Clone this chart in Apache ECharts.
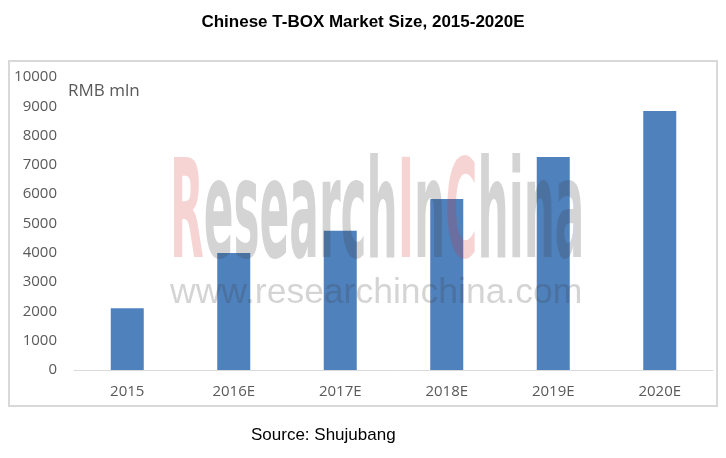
<!DOCTYPE html>
<html>
<head>
<meta charset="utf-8">
<script src="https://cdn.jsdelivr.net/npm/echarts@6/dist/echarts.min.js"></script>
<style>html,body{margin:0;padding:0;background:#fff;}#c{width:726px;height:458px;}</style>
</head>
<body>
<div id="c"></div>
<script>
var categories = ['2015', '2016E', '2017E', '2018E', '2019E', '2020E'];
var marketSize = [2110, 3990, 4750, 5840, 7270, 8840];
var yTicks = { min: 0, max: 10000, interval: 1000 };
var titleText = 'Chinese T-BOX Market Size, 2015-2020E';
var unitText = 'RMB mln';
var sourceText = 'Source: Shujubang';

var chart = echarts.init(document.getElementById('c'), null, { renderer: 'canvas' });
var axisFont = '"Open Sans", "Liberation Sans", sans-serif';
var wmFont = '"DejaVu Sans", "Liberation Sans", sans-serif';
chart.setOption({
  animation: false,
  backgroundColor: '#ffffff',
  title: {
    text: titleText,
    left: 'center',
    top: 9,
    textStyle: { fontFamily: '"Liberation Sans", Arial, sans-serif', fontWeight: 'bold', fontSize: 17, color: '#000' }
  },
  grid: { left: 74, right: 13, top: 77, bottom: 88 },
  xAxis: {
    type: 'category',
    data: categories,
    axisLine: { lineStyle: { color: '#d9d9d9', width: 1 } },
    axisTick: { show: false },
    axisLabel: { color: '#595959', fontSize: 15, fontFamily: axisFont, margin: 14 }
  },
  yAxis: {
    type: 'value',
    min: yTicks.min,
    max: yTicks.max,
    interval: yTicks.interval,
    splitLine: { show: false },
    axisLine: { show: false },
    axisTick: { show: false },
    axisLabel: { color: '#595959', fontSize: 15, fontFamily: axisFont, margin: 17, formatter: function (v) { return String(v); } }
  },
  series: [{
    type: 'bar',
    data: marketSize,
    barWidth: 33,
    itemStyle: { color: '#4f81bd' },
    z: 2
  }],
  graphic: [
    {
      type: 'rect', z: 0, silent: true,
      shape: { x: 9, y: 61, width: 708, height: 345 },
      style: { fill: 'none', stroke: '#d9d9d9', lineWidth: 2 }
    },
    {
      type: 'text', z: 3, silent: true,
      left: 68, top: 83,
      style: { text: unitText, fill: '#595959', fontSize: 17, fontFamily: axisFont }
    },
    {
      type: 'text', z: 3, silent: true,
      left: 251, top: 427,
      style: { text: sourceText, fill: '#000', fontSize: 17, fontFamily: '"Liberation Sans", Arial, sans-serif' }
    },
    {
      type: 'text', z: 100, silent: true,
      x: 170, y: 221, scaleX: 0.32, scaleY: 1,
      style: {
        text: '{p|R}{g|esearch}{p|I}{g|n}{p|C}{g|hina}',
        verticalAlign: 'middle',
        rich: {
          p: { fill: 'rgba(215,40,40,0.2)', fontSize: 137, fontWeight: 'bold', fontFamily: wmFont },
          g: { fill: 'rgba(60,60,60,0.22)', fontSize: 137, fontWeight: 'bold', fontFamily: wmFont }
        }
      }
    },
    {
      type: 'text', z: 100, silent: true,
      x: 170, y: 293,
      style: {
        text: 'www.researchinchina.com',
        verticalAlign: 'middle',
        fill: 'rgba(60,60,60,0.22)', fontSize: 35.5, fontFamily: '"Liberation Sans", Arial, sans-serif'
      }
    }
  ]
});
</script>
</body>
</html>
